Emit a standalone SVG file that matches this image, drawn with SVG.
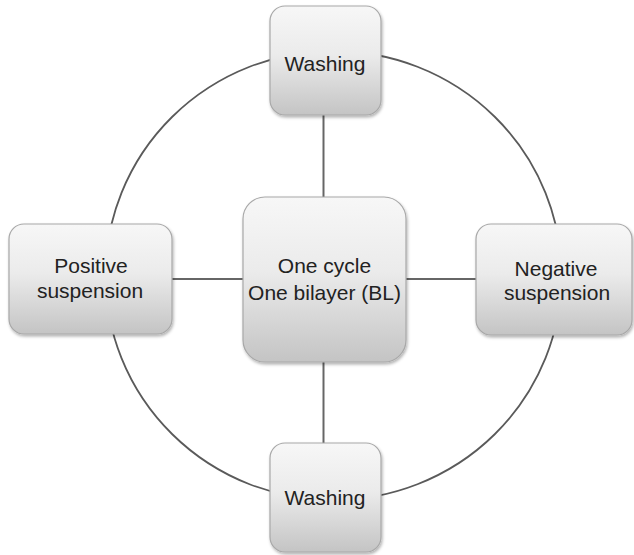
<svg xmlns="http://www.w3.org/2000/svg" width="634" height="555" viewBox="0 0 634 555">
  <defs>
    <linearGradient id="boxFill" x1="0" y1="0" x2="0" y2="1">
      <stop offset="0" stop-color="#f7f7f7"/>
      <stop offset="0.45" stop-color="#ebebeb"/>
      <stop offset="1" stop-color="#c4c4c4"/>
    </linearGradient>
    <filter id="shadow" x="-10%" y="-10%" width="125%" height="130%">
      <feDropShadow dx="1" dy="2" stdDeviation="1.6" flood-color="#000" flood-opacity="0.3"/>
    </filter>
  </defs>
  <style>
    .box { fill: url(#boxFill); stroke: #a8a8a8; stroke-width: 1.2; filter: url(#shadow); }
    .link { stroke: #666; stroke-width: 2; fill: none; }
    .ring { stroke: #5a5a5a; stroke-width: 1.8; fill: none; }
    .label { font-family: "Liberation Sans", Arial, sans-serif; font-size: 21px; fill: #222; text-anchor: middle; }
  </style>

  <rect width="634" height="555" fill="#fff"/>

  <!-- cycle ring and spokes -->
  <g id="connectors">
    <ellipse class="ring" cx="333.5" cy="275.5" rx="228" ry="224.5"/>
    <line class="link" x1="172" y1="279" x2="243" y2="279"/>
    <line class="link" x1="406" y1="279" x2="476" y2="279"/>
    <line class="link" x1="323.5" y1="115" x2="323.5" y2="197"/>
    <line class="link" x1="323.5" y1="362" x2="323.5" y2="443"/>
  </g>

  <g id="washing-top">
    <rect class="box" x="270" y="6" width="111" height="109" rx="15"/>
    <text class="label" x="325" y="71">Washing</text>
  </g>

  <g id="positive-suspension">
    <rect class="box" x="9" y="224" width="163" height="110" rx="15"/>
    <text class="label" x="91" y="273">Positive</text>
    <text class="label" x="90" y="298">suspension</text>
  </g>

  <g id="center">
    <rect class="box" x="243" y="197" width="163" height="165" rx="22"/>
    <text class="label" x="324.5" y="273">One cycle</text>
    <text class="label" x="324.5" y="300">One bilayer (BL)</text>
  </g>

  <g id="negative-suspension">
    <rect class="box" x="476" y="224" width="156" height="111" rx="15"/>
    <text class="label" x="556" y="276">Negative</text>
    <text class="label" x="557" y="300">suspension</text>
  </g>

  <g id="washing-bottom">
    <rect class="box" x="270" y="443" width="111" height="109" rx="15"/>
    <text class="label" x="325" y="505">Washing</text>
  </g>
</svg>
